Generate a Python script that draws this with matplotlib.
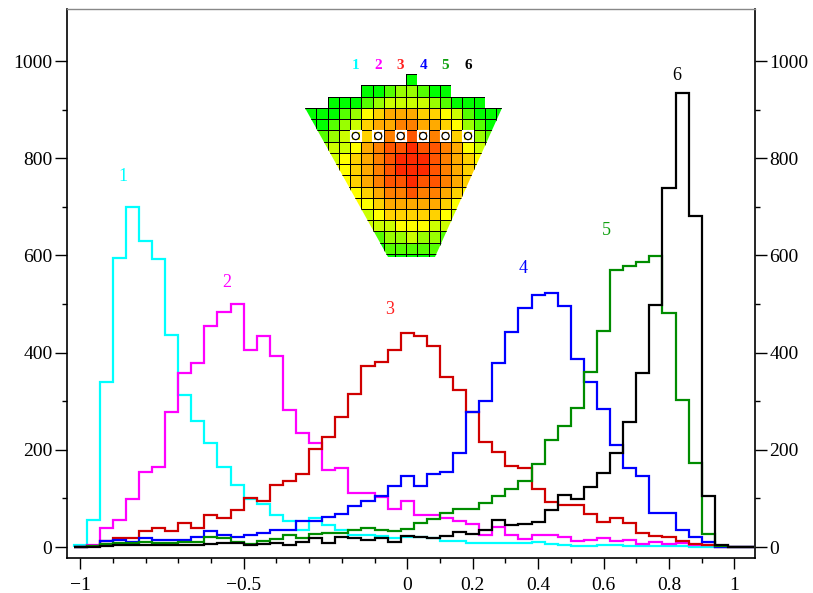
import numpy as np
import matplotlib
matplotlib.use("Agg")
import matplotlib.pyplot as plt
from matplotlib.colors import ListedColormap
from matplotlib.patches import Polygon, Rectangle, Circle
from matplotlib.ticker import FixedLocator

plt.rcParams['font.family'] = ['Liberation Serif', 'DejaVu Serif']

# histogram bins (width 0.04)
edges = np.linspace(-1.02, 1.06, 53)

counts_1 = [5, 55, 340, 595, 700, 630, 592, 436, 313, 259,
            215, 164, 127, 98, 88, 66, 53, 36, 60, 45,
            36, 25, 25, 23, 18, 21, 20, 18, 12, 12,
            8, 8, 8, 8, 8, 11, 6, 4, 3, 3,
            5, 4, 3, 3, 3, 3, 2, 1, 1, 0,
            0, 0]
counts_2 = [1, 5, 40, 56, 99, 154, 165, 277, 359, 378,
            455, 484, 501, 405, 435, 393, 282, 234, 215, 158,
            163, 112, 112, 102, 78, 94, 65, 65, 59, 54,
            47, 25, 42, 25, 17, 25, 25, 20, 13, 14,
            18, 12, 15, 6, 10, 7, 9, 5, 4, 1,
            0, 0]
counts_3 = [0, 3, 12, 18, 18, 33, 40, 33, 49, 40,
            66, 60, 76, 100, 95, 128, 136, 150, 201, 227,
            267, 314, 372, 380, 405, 440, 434, 414, 349, 324,
            277, 217, 196, 167, 163, 119, 92, 86, 86, 68,
            52, 60, 50, 29, 23, 21, 12, 6, 4, 0,
            0, 0]
counts_4 = [0, 3, 12, 14, 10, 19, 14, 14, 15, 21,
            33, 24, 21, 25, 28, 36, 36, 53, 53, 62,
            67, 84, 95, 104, 126, 146, 126, 150, 154, 193,
            277, 301, 379, 443, 491, 518, 523, 495, 386, 340,
            284, 209, 162, 146, 70, 70, 35, 21, 10, 1,
            0, 0]
counts_5 = [1, 2, 6, 8, 8, 11, 8, 8, 10, 11,
            21, 19, 10, 7, 12, 16, 24, 18, 27, 29,
            29, 36, 40, 35, 33, 38, 50, 57, 71, 78,
            78, 91, 105, 119, 136, 171, 220, 249, 287, 361,
            445, 570, 579, 587, 599, 482, 302, 172, 27, 2,
            0, 0]
counts_6 = [0, 1, 3, 4, 4, 5, 5, 5, 4, 5,
            7, 9, 8, 4, 6, 8, 5, 11, 18, 8,
            21, 18, 14, 19, 10, 23, 20, 18, 23, 30,
            27, 35, 56, 45, 47, 51, 76, 108, 99, 124,
            153, 193, 258, 359, 498, 739, 935, 681, 105, 4,
            0, 0]

series = [counts_1, counts_2, counts_3, counts_4, counts_5, counts_6]
names = ['1', '2', '3', '4', '5', '6']
line_colors = ['#00ffff', '#ff00ff', '#d00000', '#0000ff', '#008c00', '#000000']
label_colors = ['#00ffff', '#ff00ff', '#ff2020', '#0000ff', '#10a010', '#000000']
label_x = [-0.868, -0.553, -0.054, 0.353, 0.610, 0.823]
label_y = [763, 545, 488, 574, 652, 971]

xtick_pos = [-1, -0.5, 0, 0.2, 0.4, 0.6, 0.8, 1]
xtick_lbl = ['\u22121', '\u22120.5', '0', '0.2', '0.4', '0.6', '0.8', '1']

# detector map shown in the inset (colour level per cell, '.' = no cell)
cell_rows = [
    ".........0........",
    ".....00122100.....",
    "..00012333321000..",
    "000124566655431000",
    "001235667766542100",
    "112345677877654211",
    "223346788988764322",
    "333456789998765433",
    "334456789998765443",
    "334456788988765443",
    "334445677877654433",
    "223344566666544322",
    "112233455555433211",
    "111223334443322111",
    "001111122322111000",
    "000000011111000000",
    "000000000000000000",
]
map_colors = ['#00ff00', '#55ff00', '#99ff00', '#ccff00', '#ffff00',
              '#ffd200', '#ffaa00', '#ff8000', '#ff5500', '#ff2a00']
marked_cols = [4, 6, 8, 10, 12, 14]
marked_row = 5

fig = plt.figure(figsize=(8.13, 5.93), dpi=100)
ax = fig.add_axes([0.0824, 0.059, 0.8463, 0.9258])

for vals, col in zip(series, line_colors):
    ax.stairs(vals, edges, color=col, lw=1.6)

for n, col, x, y in zip(names, label_colors, label_x, label_y):
    ax.text(x, y, n, color=col, fontsize=13, ha='center', va='center')

ax.set_xlim(-1.04, 1.063)
ax.set_ylim(-22.6, 1107)
ax.set_xticks(xtick_pos)
ax.set_xticklabels(xtick_lbl)
ax.xaxis.set_minor_locator(FixedLocator(np.round(np.arange(-1.0, 1.01, 0.1), 2)))
ax.set_yticks(range(0, 1001, 200))
ax.yaxis.set_minor_locator(FixedLocator(range(100, 1100, 200)))
ax.tick_params(axis='both', which='both', direction='out', labelsize=14, width=1.0)
ax.tick_params(axis='y', which='both', left=True, right=True, labelleft=True, labelright=True)
ax.tick_params(axis='y', which='major', length=8.5, pad=2)
ax.tick_params(axis='x', which='major', length=8, pad=6)
ax.tick_params(which='minor', length=3.5)
ax.spines['top'].set_color('#888888')
ax.spines['top'].set_linewidth(1.0)
for s in ['left', 'right', 'bottom']:
    ax.spines[s].set_linewidth(1.2)

# inset
ins = fig.add_axes([0.3754, 0.5528, 0.2486, 0.3599])
ins.set_xlim(0, 18)
ins.set_ylim(17, -2)
ins.axis('off')

grid = np.full((len(cell_rows), 18), np.nan)
for i, row in enumerate(cell_rows):
    for j, ch in enumerate(row):
        if ch != '.':
            grid[i, j] = int(ch)
grid = np.ma.masked_invalid(grid)

mesh = ins.pcolormesh(np.arange(19), np.arange(len(cell_rows) + 1), grid,
                      cmap=ListedColormap(map_colors), vmin=-0.5, vmax=9.5,
                      edgecolors='black', linewidth=0.6)
outline = [(9, 0), (10, 0), (10, 1), (13, 1), (13, 2), (16, 2), (16, 3),
           (17.5, 3), (11.56, 16.24), (7.4, 16.24), (0, 3), (2, 3), (2, 2),
           (5, 2), (5, 1), (9, 1)]
clip = Polygon(outline, closed=True, transform=ins.transData)
mesh.set_clip_path(clip)

for k, c in enumerate(marked_cols):
    ins.add_patch(Rectangle((c + 0.06, marked_row + 0.06), 0.88, 0.88,
                            fill=False, ec='white', lw=1.5))
    ins.add_patch(Circle((c + 0.5, marked_row + 0.5), 0.32, fc='white', ec='black', lw=0.9))
    ins.text(c + 0.5, -0.8, names[k], color=label_colors[k], fontsize=11,
             fontweight='bold', ha='center', va='center')

fig.savefig('out.png', dpi=100)
